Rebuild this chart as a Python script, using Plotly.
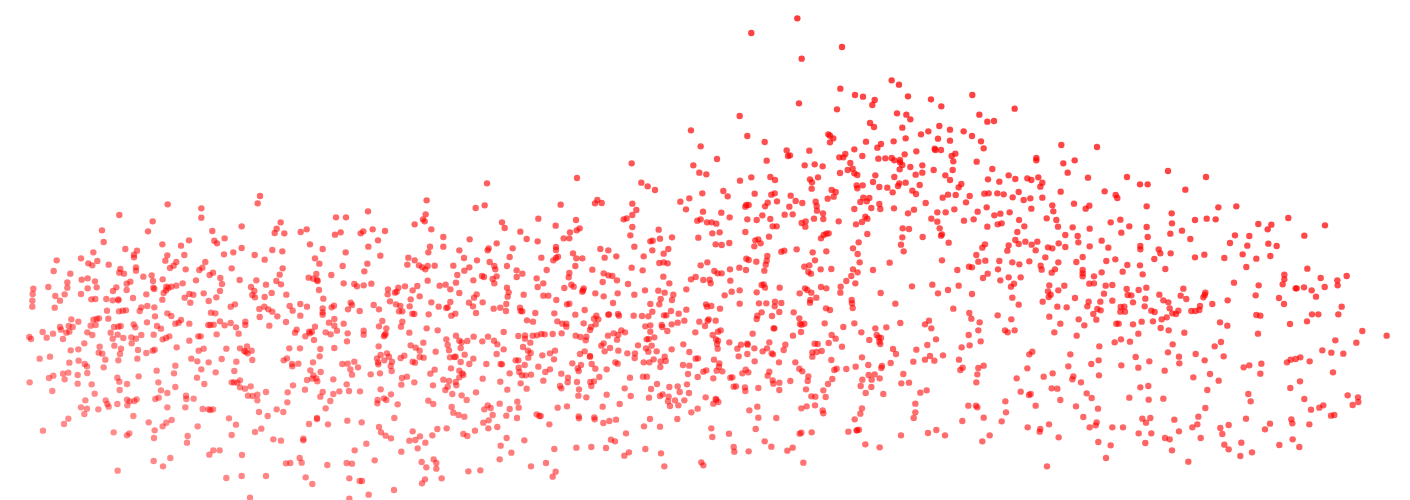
import plotly.graph_objects as go

# Readings of the scatter, on a 3x grid of the chart's units, grouped by area.
left_points = [(780,48),(773,70),(503,73),(604,85),(1280,61),(1277,103),(1269,118),(1274,124),(1244,133),(1294,148),(358,105),(604,113),(458,124),(444,154),(306,151),(311,186),(725,139),(842,127),(830,146),(824,159),(853,160),(902,156),(920,148),(1008,112),(1038,112),(1104,94),(1118,148),(1090,154),(1082,160),(1155,153),(1022,157),(1005,164),(637,153),(674,175),(643,182),(651,190),(567,181),(543,197),(487,193),(376,207),(411,212),(402,224),(402,232),(280,217),(243,235),(170,241),(161,273),(211,281),(265,250),(277,256),(292,243),(326,254),(361,267),(358,278),(372,281),(408,262),(408,272),(502,226),(496,242),(553,225),(529,246),(521,257),(510,264),(557,268),(616,246),(607,263),(598,270),(672,223),(700,217),(725,204),(764,225),(794,239),(817,210),(847,214),(695,265),(639,278),(629,285),(661,294),(588,301),(548,310),(529,317),(488,298),(455,286),(459,303),(430,290),(391,305),(380,311),(460,323),(463,327),(499,320),(505,324),(514,320),(498,331),(491,339),(380,330),(339,333),(349,322),(290,322),(263,325),(285,304),(245,299),(263,295),(202,307),(202,323),(194,343),(145,321),(100,326),(98,342),(97,362),(97,380),(166,348),(180,362),(164,383),(243,342),(274,358),(286,357),(319,357),(338,361),(355,358),(355,361),(399,354),(439,343),(487,359),(554,353),(568,342),(580,344),(571,368),(611,340),(626,363),(649,352),(660,333),(666,312),(719,300),(769,301),(753,321),(763,333),(757,345),(765,352),(794,351),(798,314),(815,339),(829,303),(843,313),(839,284),(848,265),(859,344),(869,378),(878,392),(901,372),(921,380),(901,407),(858,426),(832,409),(817,395),(805,388),(793,380),(778,387),(779,411),(808,437),(736,425),(736,435),(708,442),(716,461),(692,429),(692,380),(705,373),(633,398),(646,400),(660,424),(641,434),(625,435),(631,435),(674,436),(650,463),(602,469),(595,469),(568,431),(543,420),(536,428),(526,431),(514,408),(502,400),(465,409),(463,382),(442,378),(424,382),(419,393),(378,391),(368,392),(357,394),(321,392),(325,416),(297,415),(290,417),(280,419),(214,418),(235,425),(206,438),(218,441),(180,441),(183,449),(208,455),(199,458),(128,456),(159,461),(88,471),(93,477),(140,473),(189,477),(262,457),(272,437),(287,435),(277,465),(342,441),(362,438),(355,440),(332,458),(353,464),(338,476),(370,474),(394,472),(408,476),(395,490),(424,465),(441,427),(401,433),(406,442),(471,438),(483,446),(461,464),(488,478),(498,474),(508,469),(530,502),(568,482),(596,512),(611,506),(574,536),(592,544),(626,547),(665,537),(679,506),(720,505),(733,513),(741,499),(737,515),(755,512),(743,520),(757,540),(709,545),(703,573),(647,577),(604,568),(591,593),(613,612),(526,557),(522,580),(470,572),(475,607),(526,621),(483,631),(502,639),(476,653),(466,657),(558,647),(559,657),(581,656),(556,682),(502,682),(416,589),(381,612),(352,593),(358,605),(359,630),(284,641),(275,613),(262,579),(261,559),(254,552),(236,542),(208,548),(150,530),(119,536),(212,511),(235,508),(253,490),(299,500),(296,518),(307,521),(316,539),(311,562),(355,541),(360,522),(363,506),(343,497),(414,510),(412,536),(439,519),(458,512),(464,509),(205,578),(189,581),(194,598),(160,587),(147,594),(233,585),(233,611),(89,607),(157,633),(256,661),(243,682),(261,686),(253,702),(295,688),(317,661),(322,672),(326,680),(352,672),(381,659),(389,664),(382,676),(403,663),(410,658),(400,708),(446,727),(488,739),(499,728),(515,720),(464,751),(462,774),(341,757),(381,766),(388,760),(205,716),(192,732),(129,752),(593,739),(563,768),(561,788),(640,811),(628,824),(659,811),(726,825),(461,843),(511,834),(489,859),(353,872),(679,894),(725,888),(798,888),(750,953),(687,715),(708,734),(695,765),(765,756),(784,746),(820,778),(843,782),(910,776),(910,781),(803,708),(777,696),(830,688),(850,696),(862,667),(863,637),(879,616),(915,629),(798,636),(772,644),(772,661),(758,648),(744,647),(752,619),(735,626),(720,622),(720,601),(712,608),(702,607),(695,607),(608,687),(625,688),(631,690),(639,688),(927,732),(951,714),(951,717),(984,733),(1042,722),(1085,727),(977,685),(991,663),(961,650),(968,636),(1000,642),(1018,634),(1047,633),(1080,634),(1040,613),(1000,598),(1056,584),(1051,568),(1027,552),(1043,551),(1063,545),(1074,562),(1112,583),(1140,580),(1142,628),(1173,643),(1152,655),(1159,660),(1132,670),(1133,660),(1193,673),(1183,714),(1137,741),(1143,757),(1157,767),(1173,775),(1099,791),(1064,811),(1124,841),(1056,851),(1040,849),(982,855),(905,848),(899,834),(871,849),(858,850),(917,892),(937,912),(1048,895),(1086,903),(1079,903),(1106,944),(1048,956),(1182,930),(1204,815),(1228,782),(1246,780),(1260,769),(1238,754),(1276,788),(1253,805),(1297,766),(1312,747),(1340,745),(1390,762),(1402,768),(1265,846),(1301,838),(1309,849),(1279,862),(1309,866),(1325,895),(1275,898),(1266,910),(1405,874),(1285,662),(1300,672),(1355,681),(1360,698),(1376,705),(1393,710),(1400,660),(1385,646),(1357,642),(1336,630),(1343,620),(1347,603),(1330,599),(1369,616),(1367,606),(1299,616),(1243,607),(1206,594),(1204,614),(1221,590),(1291,581),(1304,569),(1353,565),(1378,572),(1387,580),(1390,585),(1378,592),(1408,552),(1382,546),(1367,530),(1350,532),(1363,531),(1394,524),(1382,504),(1347,511),(1343,495),(1339,478),(1368,467),(1378,482),(1385,487),(1402,483),(1307,515),(1270,488),(1232,496),(1247,503),(1259,512),(1259,531),(1271,533),(1238,545),(1245,548),(1202,534),(1213,527),(1228,458),(1203,440),(1207,425),(1159,445),(1137,439),(1147,423),(1157,461),(1154,465),(1152,469),(1136,499),(1142,525),(1161,520),(1167,530),(1131,535),(1134,547),(1135,553),(1153,541),(1176,545),(1172,558),(1175,573),(1280,445),(1313,451),(1339,384),(1343,382),(1316,380),(1294,367),(1286,403),(1243,402),(1237,401),(1259,349),(1232,358),(1238,331),(1252,318),(1215,319),(1195,323),(1190,335),(1185,338),(1164,328),(1163,343),(1170,364),(1188,373),(1201,378),(1197,394),(1207,394),(1229,379),(1137,388),(1121,375),(1079,393),(1044,388),(1052,368),(1056,375),(1031,431),(1043,460),(1041,484),(1091,452),(1091,464),(1003,504),(1011,452),(992,463),(1003,437),(1003,417),(987,428),(995,382),(1002,377),(968,385),(968,397),(968,404),(970,356),(957,330),(951,300),(949,282),(926,293),(940,296),(953,303),(994,285),(1031,310),(1063,312),(1071,319),(1091,316),(1114,311),(1093,274),(1102,251),(1028,258),(1037,217),(958,251),(945,235),(968,207),(930,193),(1105,200),(1134,181),(1141,227),(1225,233),(1222,254),(1244,241),(1257,256),(1267,262),(1276,268),(1283,258),(1304,257),(1290,200),(1285,217),(1330,171),(1330,200),(1378,211),(1392,234),(1360,257),(1393,272),(1372,285),(1408,262),(1409,178),(1283,302),(1319,317),(1337,314),(1351,328),(1368,308),(1378,339),(1351,366),(1407,368),(1366,401),(1354,407),(936,455),(942,480),(927,455),(930,460),(916,469),(885,458),(890,449),(945,440),(977,457),(868,505),(900,505),(961,507),(959,529),(861,535),(851,541),(876,552),(877,559),(895,551),(939,547),(931,571),(962,576),(940,586),(921,600),(937,596),(949,595),(952,604)]

middle_points = [(51,10),(514,8),(533,19),(555,30),(1026,7),(1025,26),(1160,16),(1162,25),(1178,16),(1209,6),(1228,21),(1252,23),(1268,37),(1284,18),(1288,10),(1307,8),(1349,15),(1327,32),(1338,42),(1367,69),(1332,89),(1314,100),(1272,85),(1228,72),(1231,87),(1204,84),(1198,54),(1180,53),(1171,66),(1190,64),(1153,87),(1097,36),(1085,30),(1091,50),(1073,56),(1037,65),(1040,78),(1041,92),(1059,100),(1060,117),(1032,116),(1106,124),(1158,133),(1176,126),(1186,110),(1192,116),(1192,162),(1166,187),(1149,205),(1163,222),(1169,247),(1149,268),(1163,277),(1144,288),(1129,303),(1156,310),(1112,320),(1111,338),(1145,360),(1146,370),(1148,384),(1209,270),(1259,248),(1298,145),(1317,147),(1297,172),(1293,194),(1301,214),(1358,171),(1384,116),(1402,97),(1402,125),(1409,145),(1326,319),(1387,314),(1404,340),(1232,339),(1276,371),(1153,430),(1120,441),(1064,430),(1068,385),(1080,390),(1053,321),(1069,325),(1039,353),(1021,360),(1020,368),(1024,338),(1005,325),(1012,330),(989,340),(971,397),(988,415),(990,432),(995,434),(1003,431),(993,456),(969,467),(946,494),(941,510),(1034,491),(1043,492),(1076,489),(1085,465),(1097,476),(1116,500),(1055,513),(1040,516),(1027,517),(1027,530),(1084,540),(1093,570),(1100,566),(1129,567),(1157,560),(1176,532),(1195,555),(1196,585),(1214,583),(1236,558),(1234,564),(1262,549),(1229,595),(1205,599),(1177,599),(1172,618),(1204,621),(1187,639),(1240,642),(1294,610),(1317,608),(1300,582),(1330,545),(1365,539),(1380,528),(1393,542),(1339,509),(1372,495),(1398,478),(1384,445),(1365,433),(1377,422),(1291,429),(1249,442),(1216,445),(1220,465),(1198,480),(1174,457),(1226,472),(1233,474),(1228,485),(1231,492),(1269,507),(1278,522),(1370,631),(1351,638),(1336,671),(1336,697),(1331,714),(1293,766),(1374,759),(1399,750),(1229,802),(1186,793),(1135,755),(1160,751),(1167,749),(1171,701),(1176,685),(1154,718),(1087,597),(1074,612),(1060,631),(1067,651),(1036,650),(1024,649),(1035,676),(1010,679),(994,685),(1058,691),(1060,700),(1025,757),(994,758),(989,761),(1000,848),(968,803),(952,812),(904,800),(884,784),(857,747),(777,761),(724,745),(727,771),(791,801),(793,815),(836,814),(694,847),(700,856),(583,859),(573,820),(526,807),(477,817),(463,827),(408,804),(364,801),(319,803),(253,807),(228,849),(183,859),(257,875),(248,890),(31,871),(89,838),(124,818),(92,797),(110,774),(163,781),(15,752),(55,745),(82,741),(40,728),(56,721),(68,705),(109,707),(141,714),(146,683),(142,665),(119,687),(89,671),(62,684),(53,676),(43,688),(200,703),(208,708),(212,708),(238,733),(326,709),(327,715),(373,712),(374,718),(400,729),(418,723),(438,719),(468,760),(423,779),(435,784),(522,739),(570,740),(540,717),(622,717),(664,697),(683,686),(707,652),(739,659),(745,666),(730,671),(643,661),(625,676),(615,661),(600,678),(594,664),(596,650),(578,643),(570,648),(537,653),(482,648),(449,672),(398,680),(410,644),(349,652),(325,647),(291,679),(263,683),(361,606),(372,604),(388,591),(364,618),(327,628),(321,606),(294,593),(293,607),(270,618),(274,625),(274,581),(220,602),(170,626),(152,610),(112,629),(91,605),(38,596),(18,637),(119,580),(183,584),(167,586),(156,586),(148,576),(146,563),(137,541),(145,541),(164,555),(205,560),(226,576),(240,568),(252,538),(240,520),(255,512),(217,526),(175,533),(182,519),(174,512),(159,501),(181,488),(165,476),(145,468),(165,466),(188,467),(201,466),(214,462),(224,463),(248,462),(275,460),(317,467),(331,471),(349,470),(347,481),(360,450),(363,441),(341,430),(377,433),(385,418),(372,416),(379,407),(344,390),(316,404),(289,431),(289,440),(277,431),(262,424),(253,400),(196,399),(189,425),(171,421),(152,393),(150,383),(157,394),(108,393),(109,372),(91,383),(71,386),(38,367),(18,399),(9,379),(12,353),(20,343),(113,350),(116,337),(111,323),(161,344),(220,347),(235,347),(259,360),(291,373),(298,371),(283,324),(304,314),(311,320),(341,325),(337,335),(339,331),(376,340),(401,349),(429,369),(443,340),(398,306),(401,280),(415,286),(427,288),(441,301),(474,312),(493,344),(525,331),(565,332),(584,338),(610,344),(606,360),(572,357),(568,373),(541,372),(547,395),(535,409),(516,408),(491,407),(447,407),(444,402),(417,403),(415,404),(454,451),(465,457),(445,464),(431,460),(414,467),(441,479),(401,490),(394,497),(404,514),(420,504),(445,512),(472,520),(495,520),(494,534),(504,496),(530,478),(536,477),(526,439),(541,436),(541,455),(553,472),(545,497),(528,505),(535,515),(560,514),(584,530),(587,543),(572,544),(551,538),(538,547),(521,547),(571,561),(531,590),(519,590),(480,593),(436,547),(443,551),(410,568),(376,566),(365,552),(333,555),(323,565),(307,550),(326,573),(360,528),(360,530),(330,522),(344,514),(464,625),(543,627),(561,612),(598,621),(623,619),(629,636),(651,613),(657,639),(605,508),(640,493),(658,516),(677,536),(684,535),(639,555),(658,557),(654,582),(683,591),(700,575),(709,571),(730,595),(740,572),(747,560),(748,550),(757,574),(732,539),(743,506),(741,492),(738,478),(744,482),(752,451),(744,455),(728,465),(676,457),(575,435),(577,441),(592,453),(605,433),(623,428),(643,422),(688,425),(705,438),(716,418),(713,422),(737,422),(626,401),(603,393),(589,406),(582,406),(649,389),(724,378),(708,373),(711,380),(750,386),(809,371),(764,346),(785,335),(809,331),(860,337),(867,370),(889,370),(915,365),(914,379),(934,369),(928,396),(875,397),(862,407),(860,417),(906,408),(911,445),(913,445),(929,323),(885,323),(881,313),(875,315),(848,461),(898,487),(891,505),(878,514),(905,520),(909,523),(927,547),(853,505),(832,491),(833,494),(813,494),(802,506),(806,529),(832,522),(854,544),(778,487),(976,547),(988,566),(997,574),(1015,589),(1013,603),(1008,628),(961,603),(928,608),(908,601),(910,611),(928,630),(898,575),(893,587),(865,624),(835,577),(827,569),(817,580),(787,592),(781,593),(798,619),(791,620),(825,622),(826,633),(838,691),(862,680),(865,713),(919,714),(737,657),(1161,751),(649,328),(663,298),(677,291),(700,300),(719,299),(722,310),(781,302),(780,268),(808,263),(828,270),(692,256),(712,247),(733,273),(743,280),(755,280),(580,290),(598,310),(568,249),(581,247),(593,250),(485,263),(518,271),(521,229),(493,200),(481,166),(487,141),(487,105),(499,90),(487,71),(461,118),(470,115),(631,65),(658,55),(697,40),(760,33),(773,49),(648,88),(699,95),(682,122),(692,118),(711,127),(725,127),(739,131),(754,98),(779,112),(749,157),(727,160),(685,173),(737,193),(755,195),(778,189),(566,149),(606,172),(570,176),(548,182),(541,184),(595,207),(547,211),(581,221),(439,229),(404,233),(415,211),(391,207),(367,269),(337,235),(319,235),(309,220),(316,258),(298,279),(296,292),(258,201),(258,210),(264,230),(258,234),(250,241),(214,233),(300,157),(320,151),(329,145),(318,120),(298,175),(281,175),(257,137),(205,116),(151,155),(170,177),(203,184),(96,127),(104,144),(80,190),(56,205),(53,211),(128,205),(119,231),(111,258),(140,271),(157,281),(140,291),(73,258),(76,268),(59,246),(21,241),(36,288),(42,291),(10,301),(68,297),(73,310),(80,289),(200,295),(203,321),(220,310),(230,270),(17,84),(44,76),(272,74),(375,70),(382,60),(395,69),(101,456),(54,470),(72,482),(82,493),(37,484),(11,470),(80,522),(101,508),(10,536),(49,552),(92,552),(96,553),(826,156),(832,118),(860,120),(877,106),(901,117),(908,139),(920,139),(897,170),(856,181),(865,178),(872,190),(853,199),(892,228),(890,242),(887,254),(883,272),(859,245),(829,236),(836,240),(934,215),(943,212),(980,208),(1028,217),(1069,214),(1035,241),(1018,256),(1003,260),(1052,268),(1084,267),(1015,276),(1023,281),(826,80),(836,75),(829,75),(854,41),(885,79),(893,68),(904,44),(914,40),(921,64),(962,47),(977,63),(997,69),(958,80),(944,104),(968,103),(995,129),(1007,124),(1006,140),(1053,175),(1061,165),(1069,161),(1076,160)]

right_points = [(64,12),(56,22),(178,5),(307,8),(301,20),(362,35),(236,36),(172,40),(146,40),(133,41),(191,43),(24,44),(47,45),(8,53),(89,48),(78,67),(218,52),(251,60),(271,55),(307,53),(337,76),(340,94),(402,71),(448,77),(437,86),(494,34),(527,45),(532,54),(600,13),(623,13),(736,29),(620,79),(695,100),(696,130),(765,120),(800,116),(827,118),(835,82),(889,79),(1045,114),(955,132),(994,134),(983,148),(1155,136),(1093,167),(140,82),(113,95),(163,106),(181,101),(209,97),(274,86),(43,88),(17,97),(72,122),(101,118),(142,140),(173,133),(185,130),(237,120),(253,139),(232,156),(320,115),(349,120),(354,140),(376,165),(398,142),(413,168),(415,187),(449,146),(512,127),(541,119),(568,139),(544,158),(620,141),(623,171),(691,161),(726,152),(751,177),(885,166),(870,189),(928,168),(922,197),(985,191),(1010,198),(908,223),(949,236),(991,228),(919,261),(853,234),(793,224),(765,232),(692,220),(656,208),(661,220),(643,237),(676,267),(601,198),(601,208),(485,182),(505,203),(449,199),(356,190),(376,201),(324,202),(337,205),(287,211),(292,185),(275,194),(256,185),(226,180),(236,192),(206,196),(202,212),(135,193),(127,203),(109,225),(26,188),(6,163),(3,167),(115,245),(136,242),(178,243),(217,247),(238,253),(268,244),(316,232),(355,247),(409,246),(428,231),(499,243),(526,238),(562,255),(600,256),(52,270),(6,241),(87,260),(96,262),(174,268),(143,281),(129,294),(181,301),(206,292),(242,292),(222,311),(213,320),(302,257),(305,269),(345,268),(335,278),(428,270),(428,280),(428,289),(485,277),(548,275),(608,283),(462,289),(448,311),(462,310),(497,317),(517,315),(328,316),(324,334),(332,344),(326,351),(355,331),(373,317),(56,317),(24,330),(96,342),(217,353),(236,374),(308,365),(352,380),(380,382),(405,354),(446,365),(442,379),(481,365),(492,341),(517,362),(560,327),(596,330),(619,323),(563,345),(574,346),(616,356),(579,367),(614,379),(658,344),(670,361),(685,367),(722,347),(730,326),(739,357),(790,352),(794,345),(796,338),(817,372),(780,378),(778,390),(766,393),(754,393),(715,392),(708,402),(697,400),(689,385),(634,392),(644,396),(553,380),(542,381),(541,395),(555,395),(472,387),(482,391),(460,402),(469,419),(416,418),(433,436),(361,431),(328,410),(343,457),(410,467),(40,386),(88,399),(94,416),(119,427),(173,406),(214,418),(115,451),(86,465),(122,484),(65,502),(89,496),(195,451),(203,457),(224,451),(529,431),(536,431),(579,433),(605,425),(639,424),(665,418),(680,412),(662,444),(686,451),(733,458),(595,461),(570,485),(543,478),(524,487),(478,499),(698,493),(684,517),(717,530),(718,550),(767,522),(794,541),(824,499),(843,486),(851,529),(840,427),(862,437),(954,461),(949,405),(961,407),(1050,432),(1101,424),(1116,403),(1135,403),(1195,403),(1205,380),(1267,453),(1340,467),(1249,488),(1186,481),(1147,511),(1174,518),(1210,521),(1109,544),(1081,532),(1067,537),(1052,539),(1041,547),(964,551),(928,556),(911,562),(961,581),(1179,577),(1080,604),(1051,624),(810,582),(836,602),(760,592),(802,630),(674,572),(628,544),(595,563),(587,531),(544,556),(476,541),(454,552),(477,586),(391,523),(385,559),(400,589),(397,598),(423,607),(338,580),(311,590),(262,565),(277,515),(268,523),(230,595),(131,557),(115,564),(112,583),(109,607),(68,563),(61,570),(57,539),(9,526),(335,625),(352,626),(242,635),(267,645),(272,642),(440,640),(455,654),(361,660),(196,664),(287,677),(408,679),(474,686),(198,697),(85,677),(108,677),(112,682),(131,713),(67,723),(185,724),(263,742),(301,747),(299,755),(327,733),(430,711),(470,727),(467,736),(449,742),(517,742),(549,742),(568,653),(601,622),(625,618),(626,659),(670,656),(796,684),(775,710),(703,719),(772,733),(757,742),(717,754),(631,714),(607,716),(618,728),(634,760),(596,760),(616,789),(675,774),(689,778),(696,811),(782,774),(745,845),(841,744),(866,735),(847,762),(853,794),(866,808),(904,788),(901,828),(936,817),(918,716),(975,748),(990,731),(1054,718),(1057,730),(1108,733),(1058,778),(1018,795),(1078,801),(925,642),(932,664),(1093,657),(1113,689),(1138,683),(1150,676),(1173,707),(1183,705),(1223,646),(1254,652),(1255,666),(1238,675),(15,766),(149,766),(127,784),(356,772),(475,786),(512,796),(498,834),(321,859),(1033,284),(1033,298),(1028,313),(1067,325),(1070,325),(1092,322),(1115,331),(1128,350),(1017,354),(1032,372),(1102,266),(1142,294),(1192,301),(1193,316),(1154,321),(1220,288),(956,316),(947,346),(882,308),(863,361)]

top_points = [(532,55),(394,99),(666,141),(545,176),(815,241),(837,254),(661,266),(705,285),(729,290),(764,300),(757,315),(864,289),(933,298),(1057,285),(964,319),(537,310),(651,328),(1184,326),(831,340),(859,344),(871,358),(1078,344),(1102,365),(1122,363),(359,348),(750,369),(762,381),(847,383),(958,378),(990,389),(925,394),(1031,394),(213,391),(382,408),(625,403),(630,407),(640,415),(630,427),(903,403),(857,415),(954,416),(1056,408),(1083,424),(434,426),(738,425),(821,424),(990,422),(783,432),(772,443),(242,439),(1091,445),(1324,435),(500,451),(703,448),(568,452),(889,454),(944,446),(946,450),(963,450),(1006,461),(995,468),(510,466),(504,468),(676,462),(658,472),(670,472),(727,468),(854,463),(291,477),(440,482),(775,476),(796,475),(815,474),(823,481),(840,480),(840,487),(1000,484),(1070,485),(1249,474),(1249,481),(1330,490),(1364,481),(35,490),(691,489),(220,496),(554,496),(584,493),(608,499),(847,495),(871,501),(907,496),(1117,507),(698,506),(683,510),(839,508),(941,510),(998,510),(238,518),(259,523),(660,519),(703,520),(712,525),(766,526),(887,524),(907,518),(976,526),(1343,518),(1166,526),(394,532),(451,531),(594,532),(823,531),(1222,535),(1255,532),(1404,533),(465,540),(360,542),(570,538),(1186,537),(1234,540),(1104,538),(990,540),(-129,534),(1431,441),(1521,531),(1644,513),(1758,531)]

# group name -> points and where that group's reading grid starts
groups = [(left_points, 0, 540), (middle_points, 1410, 540), (right_points, 2820, 540), (top_points, 1860, 0)]

x_values, y_values = [], []
for points, dx, dy in groups:
    for px, py in points:
        x_values.append((px + dx) / 3)
        y_values.append((py + dy) / 3)

# Points get a little stronger toward the right and toward the top.
opacities = [min(0.85, 0.44 + 0.2 * x / 1410 + 0.22 * max(0, 400 - y) / 400) for x, y in zip(x_values, y_values)]

fig = go.Figure(go.Scatter(
    x=x_values, y=y_values, mode="markers",
    marker=dict(color="#ff0000", size=6.4, opacity=opacities, line=dict(width=0)),
    hoverinfo="skip", showlegend=False,
))
fig.update_layout(
    width=1410, height=500, margin=dict(l=0, r=0, t=0, b=0),
    plot_bgcolor="white", paper_bgcolor="white",
    xaxis=dict(visible=False, range=[0, 1410], fixedrange=True),
    yaxis=dict(visible=False, range=[500, 0], fixedrange=True),
)
fig.write_html("out.html", config={"displayModeBar": False},
               post_script="document.body.style.margin='0';document.documentElement.style.overflow='hidden';")
